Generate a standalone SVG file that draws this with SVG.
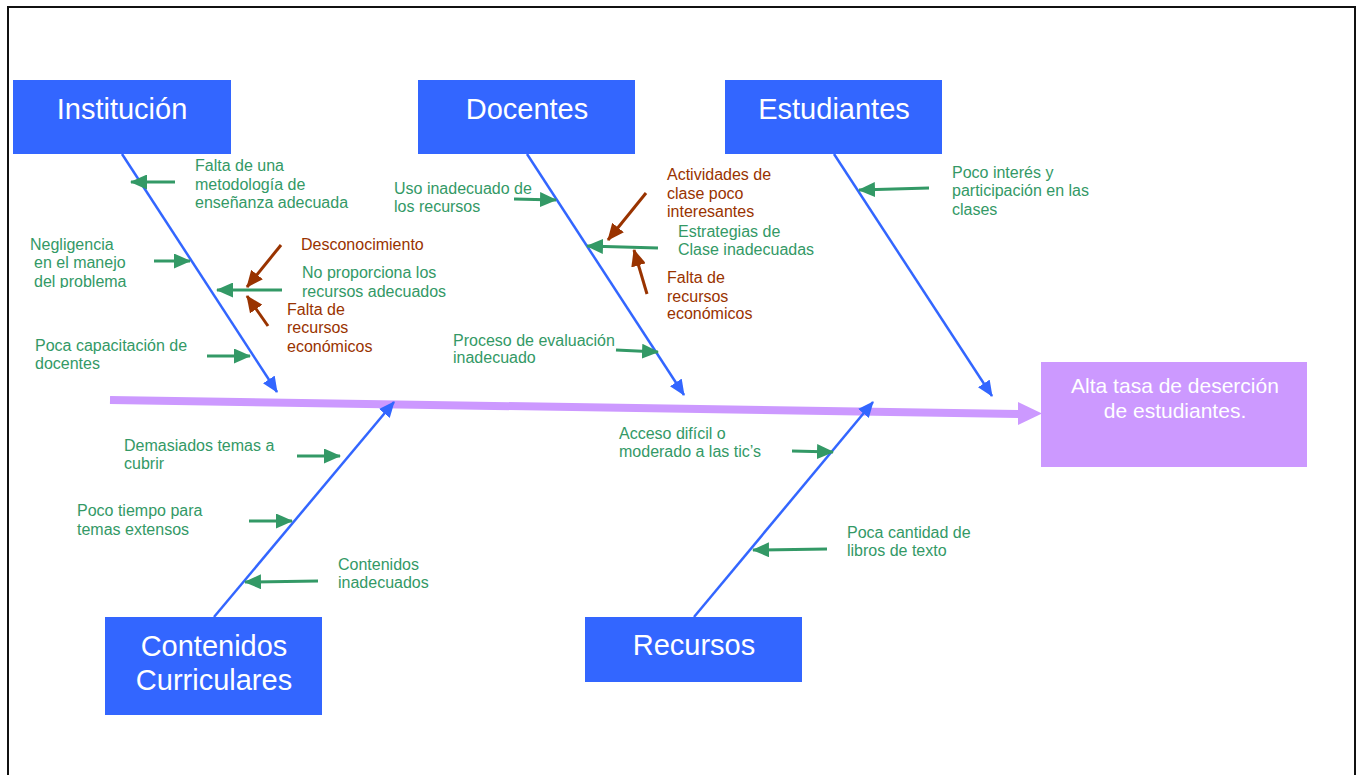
<svg xmlns="http://www.w3.org/2000/svg" width="1360" height="775" viewBox="0 0 1360 775">
<style>
.t{font-family:"Liberation Sans",Arial,sans-serif;font-size:16px}
.g{fill:#339966}
.r{fill:#993300}
.hd{font-family:"Liberation Sans",Arial,sans-serif;font-size:29px;fill:#ffffff;text-anchor:middle}
.ef{font-family:"Liberation Sans",Arial,sans-serif;font-size:21px;fill:#ffffff;text-anchor:middle}
.box{fill:#3366FF}
.bone{stroke:#3366FF;stroke-width:2.5;fill:none;marker-end:url(#mb)}
.ga{stroke:#339966;stroke-width:3;fill:none;marker-end:url(#mg)}
.ra{stroke:#993300;stroke-width:3;fill:none;marker-end:url(#mr)}
</style>
<defs>
<marker id="mb" markerUnits="userSpaceOnUse" viewBox="0 0 16 14" refX="15" refY="7" markerWidth="16" markerHeight="14" orient="auto"><path d="M0,0 L16,7 L0,14 z" fill="#3366FF"/></marker>
<marker id="mg" markerUnits="userSpaceOnUse" viewBox="0 0 17 15" refX="16" refY="7.5" markerWidth="17" markerHeight="15" orient="auto"><path d="M0,0 L17,7.5 L0,15 z" fill="#339966"/></marker>
<marker id="mr" markerUnits="userSpaceOnUse" viewBox="0 0 17 15" refX="16" refY="7.5" markerWidth="17" markerHeight="15" orient="auto"><path d="M0,0 L17,7.5 L0,15 z" fill="#993300"/></marker>
<clipPath id="clipNeg"><rect x="0" y="0" width="400" height="288"/></clipPath>
</defs>
<rect x="0" y="0" width="1360" height="775" fill="#ffffff"/>
<path d="M8,775 V7 H1355 V775" fill="none" stroke="#111111" stroke-width="2"/>

<g id="connectors">
  <line x1="110" y1="400" x2="1020" y2="414" stroke="#CC99FF" stroke-width="8"/>
  <path d="M1018,402 L1042,413.5 L1018,425 z" fill="#CC99FF"/>
  <line class="bone" x1="122" y1="154" x2="277" y2="392"/>
  <line class="bone" x1="527" y1="154" x2="684" y2="395"/>
  <line class="bone" x1="834" y1="154" x2="992" y2="396"/>
  <line class="bone" x1="214" y1="617" x2="394" y2="402"/>
  <line class="bone" x1="694" y1="617" x2="873" y2="402"/>
  <!-- Institucion -->
  <line class="ga" x1="175" y1="182" x2="131" y2="182"/>
  <line class="ga" x1="154" y1="261" x2="190" y2="261"/>
  <line class="ga" x1="282" y1="290" x2="217" y2="290"/>
  <line class="ga" x1="207" y1="356" x2="250" y2="356"/>
  <line class="ra" x1="281" y1="245" x2="247" y2="287"/>
  <line class="ra" x1="268" y1="326" x2="247" y2="296"/>
  <!-- Docentes -->
  <line class="ga" x1="514" y1="199" x2="556" y2="200"/>
  <line class="ga" x1="658" y1="248" x2="587" y2="246"/>
  <line class="ra" x1="646" y1="193" x2="608" y2="240"/>
  <line class="ra" x1="647" y1="294" x2="634" y2="250"/>
  <line class="ga" x1="616" y1="350" x2="658" y2="352"/>
  <!-- Estudiantes -->
  <line class="ga" x1="929" y1="188" x2="859" y2="190"/>
  <!-- Contenidos -->
  <line class="ga" x1="297" y1="456" x2="340" y2="456"/>
  <line class="ga" x1="249" y1="521" x2="292" y2="521"/>
  <line class="ga" x1="318" y1="581" x2="245" y2="582"/>
  <!-- Recursos -->
  <line class="ga" x1="792" y1="451" x2="833" y2="452"/>
  <line class="ga" x1="827" y1="549" x2="753" y2="550"/>
</g>

<g id="institucion">
  <rect class="box" x="13" y="80" width="218" height="74"/>
  <text class="hd" x="122" y="119">Institución</text>
</g>
<g id="docentes">
  <rect class="box" x="418" y="80" width="217" height="74"/>
  <text class="hd" x="527" y="119">Docentes</text>
</g>
<g id="estudiantes">
  <rect class="box" x="725" y="80" width="217" height="74"/>
  <text class="hd" x="834" y="119">Estudiantes</text>
</g>
<g id="contenidos">
  <rect class="box" x="105" y="617" width="217" height="98"/>
  <text class="hd" x="214" y="656">Contenidos</text>
  <text class="hd" x="214" y="690">Curriculares</text>
</g>
<g id="recursos">
  <rect class="box" x="585" y="617" width="217" height="65"/>
  <text class="hd" x="694" y="655">Recursos</text>
</g>
<g id="efecto">
  <rect x="1041" y="362" width="266" height="105" fill="#CC99FF"/>
  <text class="ef" x="1175" y="393">Alta tasa de deserción</text>
  <text class="ef" x="1175" y="418">de estudiantes.</text>
</g>

<g id="causas-institucion">
  <text class="t g" x="195" y="171">Falta de una</text>
  <text class="t g" x="195" y="190">metodología de</text>
  <text class="t g" x="195" y="208">enseñanza adecuada</text>
  <g clip-path="url(#clipNeg)">
    <text class="t g" x="30" y="250">Negligencia</text>
    <text class="t g" x="34" y="268">en el manejo</text>
    <text class="t g" x="34" y="287">del problema</text>
  </g>
  <text class="t r" x="301" y="250">Desconocimiento</text>
  <text class="t g" x="302" y="278">No proporciona los</text>
  <text class="t g" x="302" y="297">recursos adecuados</text>
  <text class="t r" x="287" y="315">Falta de</text>
  <text class="t r" x="287" y="333">recursos</text>
  <text class="t r" x="287" y="352">económicos</text>
  <text class="t g" x="35" y="351">Poca capacitación de</text>
  <text class="t g" x="35" y="369">docentes</text>
</g>
<g id="causas-docentes">
  <text class="t g" x="394" y="194">Uso inadecuado de</text>
  <text class="t g" x="394" y="212">los recursos</text>
  <text class="t r" x="667" y="180">Actividades de</text>
  <text class="t r" x="667" y="199">clase poco</text>
  <text class="t r" x="667" y="217">interesantes</text>
  <text class="t g" x="678" y="237">Estrategias de</text>
  <text class="t g" x="678" y="255">Clase inadecuadas</text>
  <text class="t r" x="667" y="283">Falta de</text>
  <text class="t r" x="667" y="302">recursos</text>
  <text class="t r" x="667" y="319">económicos</text>
  <text class="t g" x="453" y="346">Proceso de evaluación</text>
  <text class="t g" x="453" y="363">inadecuado</text>
</g>
<g id="causas-estudiantes">
  <text class="t g" x="952" y="178">Poco interés y</text>
  <text class="t g" x="952" y="196">participación en las</text>
  <text class="t g" x="952" y="215">clases</text>
</g>
<g id="causas-contenidos">
  <text class="t g" x="124" y="451">Demasiados temas a</text>
  <text class="t g" x="124" y="469">cubrir</text>
  <text class="t g" x="77" y="516">Poco tiempo para</text>
  <text class="t g" x="77" y="535">temas extensos</text>
  <text class="t g" x="338" y="570">Contenidos</text>
  <text class="t g" x="338" y="588">inadecuados</text>
</g>
<g id="causas-recursos">
  <text class="t g" x="619" y="439">Acceso difícil o</text>
  <text class="t g" x="619" y="457">moderado a las tic’s</text>
  <text class="t g" x="847" y="538">Poca cantidad de</text>
  <text class="t g" x="847" y="556">libros de texto</text>
</g>
</svg>
